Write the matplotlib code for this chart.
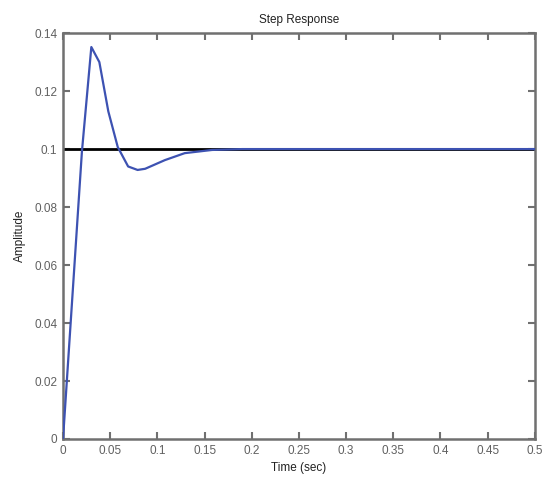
import numpy as np
import matplotlib.pyplot as plt

plt.rcParams['font.family'] = ['Liberation Sans', 'DejaVu Sans']

# step response samples (adaptive time steps)
t = [0, 0.02, 0.03, 0.0385, 0.048, 0.058, 0.069, 0.079, 0.087, 0.108, 0.129, 0.158, 0.19, 0.5]
y = [0, 0.099, 0.1352, 0.1300, 0.1130, 0.1007, 0.0940, 0.0928, 0.0932, 0.0962, 0.0986, 0.0997, 0.1000, 0.1000]
final_value = 0.1

xticks = [0, 0.05, 0.1, 0.15, 0.2, 0.25, 0.3, 0.35, 0.4, 0.45, 0.5]
xticklabels = ['0', '0.05', '0.1', '0.15', '0.2', '0.25', '0.3', '0.35', '0.4', '0.45', '0.5']
yticks = [0, 0.02, 0.04, 0.06, 0.08, 0.1, 0.12, 0.14]
yticklabels = ['0', '0.02', '0.04', '0.06', '0.08', '0.1', '0.12', '0.14']

fig = plt.figure(figsize=(5.48, 4.87), dpi=100)
ax = fig.add_axes([0.115, 0.0986, 0.861, 0.8334])

ax.axhline(final_value, color='black', lw=2, zorder=2)
ax.plot(t, y, color='#3d52b2', lw=1.6, zorder=3)

ax.set_xlim(0, 0.5)
ax.set_ylim(0, 0.14)
ax.set_xticks(xticks)
ax.set_xticklabels(xticklabels)
ax.set_yticks(yticks)
ax.set_yticklabels(yticklabels)

grey = '#707070'
for s in ax.spines.values():
    s.set_color(grey)
    s.set_linewidth(1.8)
ax.tick_params(direction='in', length=5, width=1.5, color=grey,
               labelcolor='#606060', labelsize=8.5, top=True, right=True, pad=4)

ax.set_title('Step Response', fontsize=8.5, color='#222222', pad=7)
ax.set_xlabel('Time (sec)', fontsize=8.5, color='#222222', labelpad=4)
ax.set_ylabel('Amplitude', fontsize=8.5, color='#222222', labelpad=6)

fig.savefig('out.png', dpi=100)
